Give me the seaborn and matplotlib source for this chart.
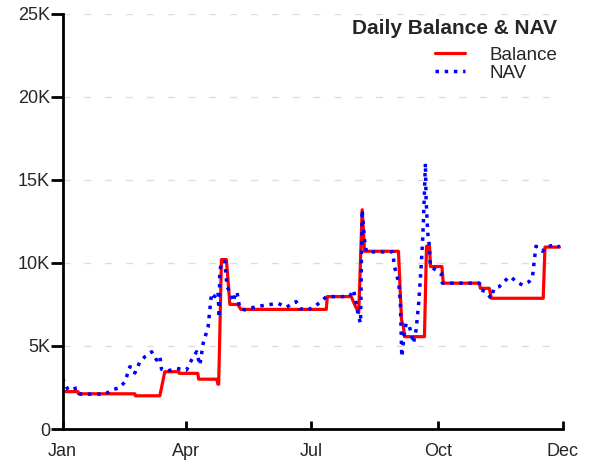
import matplotlib
matplotlib.use("Agg")
import matplotlib.pyplot as plt
import seaborn as sns
import pandas as pd

# day offsets from Jan 1 and values in dollars
balance_days = [0, 11.3, 11.5, 52.6, 53, 70.8, 74.4, 84.6, 85, 98.4, 99, 112.2, 113,
                113.6, 115.6, 119.2, 121, 121.7, 127.5, 129.7, 191.9, 192.6, 210, 213,
                215.5, 218, 219.7, 244.4, 246.6, 248, 248.8, 263.3, 264.8, 267, 267.7,
                276, 277, 303.2, 304, 310.5, 312, 349.7, 351, 361.5]
balance_vals = [2250, 2250, 2120, 2120, 2000, 2000, 3450, 3450, 3350, 3350, 3000, 3000, 2700,
                2700, 10200, 10200, 8330, 7500, 7500, 7200, 7200, 7970, 7970, 7400,
                7000, 13200, 10700, 10700, 6570, 6160, 5560, 5560, 11000, 11000, 9780,
                9780, 8780, 8780, 8470, 8470, 7870, 7870, 10950, 10950]

nav_days = [0, 4, 10.5, 12.7, 30.9, 36, 41.8, 45.4, 49, 51.4, 52.6, 56.3, 59.9, 64.8,
            68.4, 70.8, 72, 76.6, 82.9, 90.2, 93.8, 97.5, 99.9, 102.3, 105.9, 108.4,
            110.7, 113.1, 114, 114.4, 116.3, 118, 119.7, 121.6, 123.6, 126.9, 128.9,
            132.5, 136.2, 143.4, 156.7, 162.8, 170, 172.5, 178.5, 183.4, 189.4, 191.9,
            208.8, 211.7, 213.7, 215.3, 216.8, 218, 219.7, 221.1, 240.2, 241.5, 244.6,
            245.8, 246.8, 248.7, 250, 252.4, 253.6, 255.3, 257.2, 259.1, 260.9, 262,
            262.7, 264, 264.5, 265.7, 266.9, 267.6, 275.4, 276.3, 303.2, 304.4, 308,
            311.7, 314, 317.7, 323.7, 326.2, 329.8, 334.6, 339.5, 341.9, 344.4, 346.8,
            349.2, 351.6, 358.9, 361.5]
nav_vals = [3050, 2350, 2470, 2100, 2100, 2350, 2500, 2850, 3750, 3670, 3370, 4050, 4350,
            4650, 4150, 4400, 3600, 3500, 3650, 3550, 4150, 4650, 3850, 5150, 6150, 8170,
            7970, 8270, 6700, 9580, 10100, 10100, 8570, 8270, 7670, 8270, 7270, 7170,
            7270, 7400, 7570, 7330, 7670, 7250, 7170, 7370, 7770, 7970, 7970, 8370, 7570,
            6770, 6370, 13200, 11400, 10660, 10660, 9780, 8800, 7570, 4350, 5760, 6370,
            6160, 5760, 5160, 5960, 7570, 9780, 11400, 12800, 16000, 13800, 11800, 11000,
            9780, 9380, 8780, 8780, 8370, 8270, 7870, 8470, 8570, 9070, 9170, 8870, 8670,
            8870, 9170, 11000, 10900, 10700, 10950, 11100, 10950]

tick_days = [0, 90, 181, 273, 364]
tick_labels = ["Jan", "Apr", "Jul", "Oct", "Dec"]
y_ticks = [0, 5000, 10000, 15000, 20000, 25000]
y_labels = ["0", "5K", "10K", "15K", "20K", "25K"]

balance = pd.DataFrame({"day": balance_days, "value": balance_vals})
nav = pd.DataFrame({"day": nav_days, "value": nav_vals})

sns.set_style("white")
plt.rcParams["font.family"] = ["Liberation Sans", "DejaVu Sans"]

fig = plt.figure(figsize=(5.9, 4.63), dpi=100)
ax = fig.add_axes([0.106, 0.0734, 0.848, 0.897])

sns.lineplot(data=balance, x="day", y="value", ax=ax, color="#ff0000",
             linewidth=2.3, label="Balance", estimator=None, sort=False)
sns.lineplot(data=nav, x="day", y="value", ax=ax, color="#0000ff",
             linewidth=2.5, linestyle=":", label="NAV", estimator=None, sort=False)

ax.set_xlim(0, 364)
ax.set_ylim(0, 25000)
ax.set_xticks(tick_days)
ax.set_xticklabels(tick_labels)
ax.set_yticks(y_ticks)
ax.set_yticklabels(y_labels)
ax.set_xlabel("")
ax.set_ylabel("")

ax.yaxis.grid(True, color="#dddddd", linestyle=(0, (5, 10)), linewidth=1)
ax.set_axisbelow(True)

for side in ["top", "right"]:
    ax.spines[side].set_visible(False)
for side in ["left", "bottom"]:
    ax.spines[side].set_color("black")
    ax.spines[side].set_linewidth(2)

ax.tick_params(axis="y", direction="out", length=9, width=2, color="black",
               labelsize=13, pad=0, left=True)
ax.tick_params(axis="x", direction="in", length=6, width=2, color="black",
               labelsize=13, pad=10, bottom=True)

leg = ax.legend(loc="upper right", frameon=False, title="Daily Balance & NAV",
                fontsize=13.5, handlelength=1.6, handletextpad=1.3,
                borderaxespad=0, borderpad=0.3, labelspacing=0.05,
                alignment="right", bbox_to_anchor=(1.0, 1.0))
leg.get_title().set_fontweight("bold")
leg.get_title().set_fontsize(15)
leg._legend_box.sep = 6  # a bit of room between title and entries

fig.savefig("out.png", dpi=100)
